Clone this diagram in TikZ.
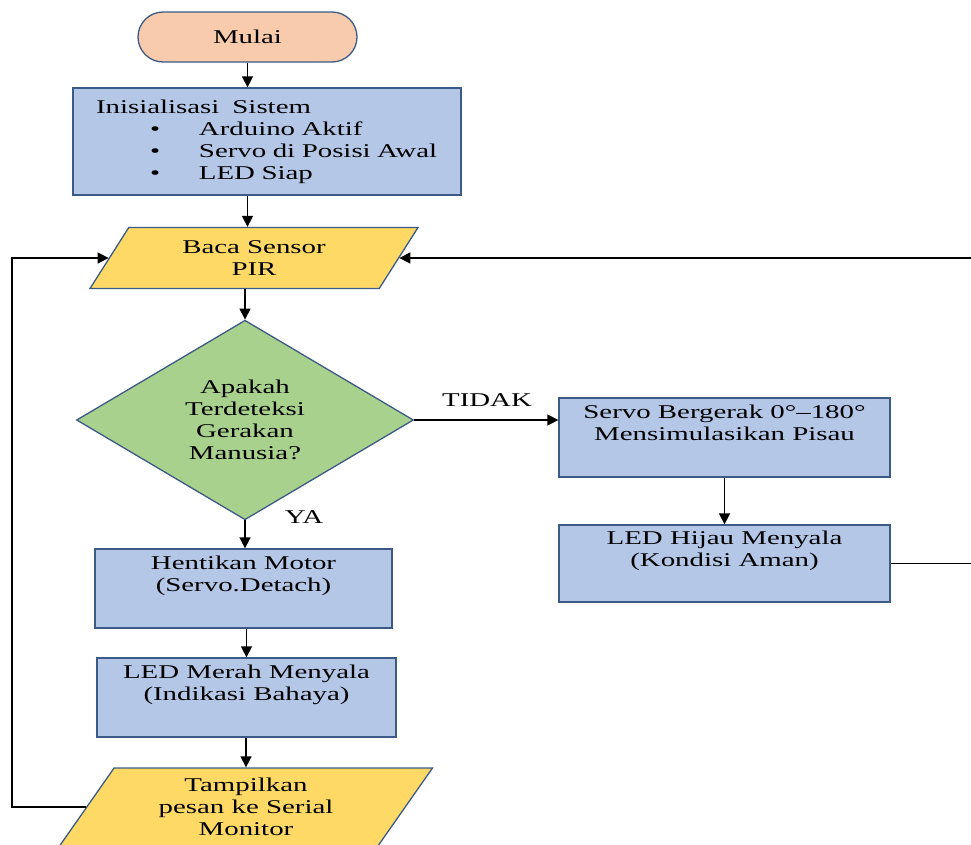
\documentclass[tikz,border=0pt]{standalone}
\usepackage{fontspec}
\setmainfont{Liberation Serif}[FakeStretch=1.48]
\usepackage{tikz}
\usetikzlibrary{arrows.meta,shapes.geometric,positioning}
\definecolor{mulaifill}{HTML}{F8CBAD}
\definecolor{boxfill}{HTML}{B4C7E7}
\definecolor{iofill}{HTML}{FFD966}
\definecolor{decfill}{HTML}{A9D18E}
\definecolor{edge}{HTML}{3B5A85}

\begin{document}
\begin{tikzpicture}[x=1pt,y=-1pt,
    txt/.style={font=\fontsize{19.5}{22}\selectfont},
    box/.style={txt,draw=edge,line width=1.3pt,fill=boxfill,align=center,inner sep=0pt},
    io/.style={txt,trapezium,trapezium stretches body,draw=edge,line width=1.3pt,fill=iofill,align=center,inner sep=0pt},
    arr/.style={line width=1.5pt,-{Stealth[length=11pt,width=11pt,inset=0pt]}}]
    \useasboundingbox (0,0) rectangle (971,844);

    % kotak-kotak
    \node[box,fill=mulaifill,rounded corners=25pt,minimum width=219pt,minimum height=50pt] (mulai) at (247.5,37) {Mulai};
    \node[box,align=left,text width=388pt,minimum height=107pt] (init) at (267,141.5)
        {\hspace*{23pt}Inisialisasi\ \ Sistem\\
         \hspace*{77pt}\makebox[49pt][l]{\textbullet}Arduino Aktif\\
         \hspace*{77pt}\makebox[49pt][l]{\textbullet}Servo di Posisi Awal\\
         \hspace*{77pt}\makebox[49pt][l]{\textbullet}LED Siap};
    \node[io,minimum width=328pt,minimum height=61pt,trapezium left angle=42,trapezium right angle=138] (baca) at (254,258) {Baca Sensor\\PIR};
    \node[txt,diamond,draw=edge,line width=1.3pt,fill=decfill,align=center,inner sep=0pt,minimum width=337pt,minimum height=196pt] (dec) at (245,420)
        {Apakah\\Terdeteksi\\Gerakan\\Manusia?};
    \node[box,minimum width=331pt,minimum height=79pt] (srv) at (724.5,437.5) {Servo Bergerak 0°–180°\\Mensimulasikan Pisau\\\strut};
    \node[box,minimum width=331pt,minimum height=77pt] (hijau) at (724.5,563.5) {LED Hijau Menyala\\(Kondisi Aman)\\\strut};
    \node[box,minimum width=297pt,minimum height=79pt] (stop) at (243.5,588.5) {Hentikan Motor\\(Servo.Detach)\\\strut};
    \node[box,minimum width=299pt,minimum height=79pt] (merah) at (246.5,697.5) {LED Merah Menyala\\(Indikasi Bahaya)\\\strut};
    \node[io,minimum width=373pt,minimum height=78pt,trapezium left angle=46.6,trapezium right angle=133.4] (tampil) at (246,807) {Tampilkan\\pesan ke Serial\\Monitor};

    \node[txt] (tidak) at (487,400) {TIDAK};
    \node[txt] (ya) at (304,517) {YA};

    \coordinate (kanan) at (975,570);
    \coordinate (kiri) at (12,800);

    % panah
    \draw[arr] (mulai.south) -- (mulai.south |- init.north);
    \draw[arr] (init.south -| mulai.south) -- (mulai.south |- baca.north);
    \draw[arr] (baca.south -| dec.north) -- (dec.north);
    \draw[arr] (dec.south) -- (dec.south |- stop.north);
    \draw[arr] (stop.south -| merah.north) -- (merah.north);
    \draw[arr] (merah.south -| tampil.north) -- (tampil.north);
    \draw[arr] (dec.east) -- (dec.east -| srv.west);
    \draw[arr] (srv.south) -- (hijau.north);
    \draw[arr] (hijau.east) -- (hijau.east -| kanan) -- (kanan |- baca.east) -- (baca.east);
    \draw[arr] (tampil.west) -- (tampil.west -| kiri) -- (kiri |- baca.west) -- (baca.west);
\end{tikzpicture}
\end{document}
